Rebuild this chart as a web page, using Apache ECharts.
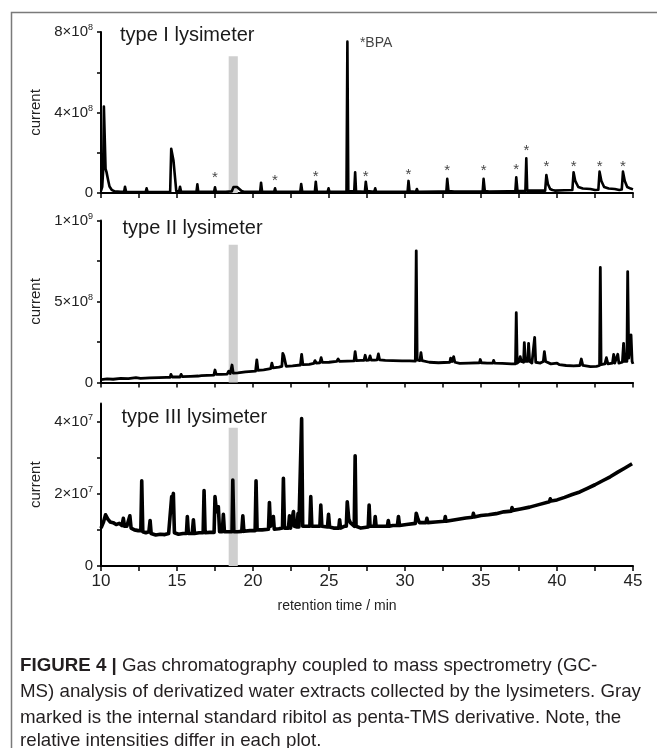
<!DOCTYPE html>
<html><head><meta charset="utf-8">
<script src="https://cdn.jsdelivr.net/npm/echarts@6/dist/echarts.min.js"></script>
<style>html,body{margin:0;padding:0;background:#fff}#c{width:657px;height:748px}</style>
</head><body><div id="c"></div>
<script>
// ---------- DATA ----------
const xMin = 10, xMax = 45, xTickStep = 2.5;
const xLabelValues = [10, 15, 20, 25, 30, 35, 40, 45];

// type I lysimeter, current in 1e8 units
const topTrace = [
 [10.0,0.1],[10.08,0.3],[10.14,1.1],[10.19,4.3],[10.24,4.25],[10.3,1.2],[10.36,1.05],[10.42,1.06],[10.48,0.6],[10.56,0.32],[10.7,0.16],[10.9,0.08],[11.3,0.06],
 [11.52,0.06],[11.58,0.31],[11.65,0.06],[12.4,0.05],[12.94,0.05],[13.0,0.23],[13.07,0.05],[13.8,0.05],
 [14.55,0.06],[14.62,2.2],[14.7,2.25],[14.77,1.6],[14.88,1.6],[14.95,0.1],[15.13,0.06],[15.2,0.31],[15.27,0.06],[15.8,0.06],
 [16.28,0.06],[16.34,0.43],[16.4,0.06],[16.72,0.06],[16.78,0.15],[16.84,0.06],[17.44,0.06],[17.5,0.28],[17.56,0.06],[18.2,0.06],
 [18.6,0.08],[18.72,0.3],[18.85,0.27],[18.95,0.3],[19.08,0.22],[19.25,0.1],[19.4,0.06],[20.0,0.06],
 [20.47,0.06],[20.53,0.51],[20.6,0.06],[21.39,0.06],[21.45,0.23],[21.51,0.06],[22.54,0.06],[22.6,0.15],[22.66,0.06],
 [23.11,0.06],[23.17,0.45],[23.24,0.06],[24.07,0.06],[24.13,0.56],[24.2,0.06],[24.91,0.06],[24.97,0.23],[25.03,0.06],
 [26.15,0.06],[26.21,7.52],[26.27,0.08],[26.66,0.08],[26.72,1.03],[26.78,0.08],[27.36,0.06],[27.42,0.56],[27.5,0.1],
 [27.98,0.06],[28.04,0.23],[28.1,0.06],[29.0,0.06],[30.17,0.06],[30.23,0.6],[30.3,0.08],[30.72,0.06],[30.78,0.2],[30.85,0.06],
 [32.2,0.07],[32.72,0.07],[32.78,0.7],[32.86,0.1],[33.24,0.07],[33.3,0.15],[33.36,0.07],[34.6,0.07],
 [35.11,0.07],[35.17,0.7],[35.25,0.1],[35.54,0.07],[35.6,0.15],[35.66,0.08],[36.8,0.08],
 [37.26,0.08],[37.32,0.78],[37.4,0.1],[37.92,0.1],[37.98,1.72],[38.04,0.12],[38.6,0.12],
 [39.22,0.12],[39.3,0.89],[39.4,0.45],[39.55,0.2],[39.7,0.15],[39.76,0.2],[39.85,0.12],[40.5,0.14],
 [41.01,0.15],[41.09,1.03],[41.2,0.6],[41.4,0.3],[41.7,0.22],[42.2,0.2],[42.5,0.15],
 [42.72,0.16],[42.8,1.06],[42.92,0.6],[43.1,0.3],[43.4,0.22],[43.8,0.2],[44.1,0.15],
 [44.26,0.17],[44.34,1.06],[44.46,0.6],[44.62,0.3],[44.85,0.22],[45.0,0.18]
];
const topStars = [[17.5,0.94],[21.45,0.8],[24.13,1.01],[27.42,1.01],[30.23,1.09],[32.78,1.31],[35.17,1.31],[37.32,1.34],[37.98,2.3],[39.3,1.48],[41.09,1.48],[42.8,1.48],[44.34,1.48]];
const bpaPoint = [[26.21,7.52]];

// type II lysimeter, current in 1e8 units
const midTrace = [
 [10.0,0.18],[10.4,0.22],[10.8,0.2],[11.3,0.26],[11.8,0.24],[12.3,0.3],[12.6,0.26],[13.2,0.28],[13.8,0.3],[14.3,0.32],
 [14.55,0.32],[14.6,0.5],[14.68,0.34],[15.2,0.34],[15.27,0.5],[15.35,0.36],[15.9,0.38],[16.4,0.4],[16.5,0.52],[16.6,0.42],[17.0,0.44],
 [17.42,0.45],[17.5,0.77],[17.58,0.5],[17.9,0.5],[18.3,0.52],[18.4,0.7],[18.5,0.55],[18.56,0.56],[18.62,1.08],[18.7,0.58],[19.0,0.6],[19.5,0.66],
 [20.17,0.7],[20.25,1.39],[20.33,0.75],[20.7,0.78],[21.16,0.85],[21.24,1.19],[21.32,0.9],[21.7,0.95],
 [21.9,1.0],[21.96,1.8],[22.03,1.65],[22.1,1.75],[22.18,1.0],[22.6,1.02],[23.12,1.08],[23.2,1.74],[23.28,1.1],[23.7,1.12],
 [24.0,1.18],[24.08,1.35],[24.16,1.2],[24.4,1.22],[24.48,1.53],[24.56,1.24],[25.0,1.25],[25.5,1.3],[25.6,1.45],[25.7,1.3],[26.2,1.32],
 [26.65,1.33],[26.72,1.9],[26.8,1.35],[27.1,1.36],[27.3,1.36],[27.38,1.68],[27.46,1.37],[27.62,1.38],[27.7,1.64],[27.78,1.38],[28.0,1.38],
 [28.17,1.4],[28.25,1.76],[28.33,1.4],[28.7,1.36],[29.2,1.35],[29.8,1.33],[30.3,1.33],
 [30.68,1.32],[30.74,8.13],[30.8,1.4],[30.98,1.35],[31.05,1.84],[31.12,1.35],[31.6,1.25],[32.2,1.22],
 [32.95,1.25],[33.0,1.5],[33.1,1.3],[33.2,1.6],[33.28,1.25],[33.6,1.18],[34.2,1.2],[34.9,1.22],[34.95,1.42],[35.02,1.22],[35.4,1.2],
 [35.78,1.2],[35.83,1.36],[35.9,1.2],[36.4,1.18],[37.0,1.15],[37.27,1.15],[37.32,4.31],[37.38,1.2],[37.52,1.3],[37.58,1.6],[37.65,1.3],
 [37.8,1.25],[37.85,2.46],[37.92,1.3],[38.08,1.3],[38.13,2.42],[38.2,1.3],[38.35,1.2],[38.48,1.25],[38.53,2.79],[38.6,1.25],
 [38.9,1.2],[39.1,1.3],[39.17,1.9],[39.25,1.3],[39.6,1.15],[40.0,1.2],[40.05,1.29],[40.15,1.1],[40.6,1.05],[41.1,1.02],
 [41.5,1.05],[41.6,1.45],[41.7,1.05],[42.2,0.98],[42.6,1.0],[42.8,1.05],[42.85,7.1],[42.9,1.1],[43.15,1.15],[43.25,1.53],[43.35,1.15],
 [43.65,1.2],[43.73,1.74],[43.8,1.2],[43.93,1.2],[44.0,1.74],[44.07,1.2],[44.3,1.25],[44.38,2.42],[44.45,1.3],
 [44.6,1.3],[44.65,6.85],[44.72,1.5],[44.82,1.4],[44.87,2.94],[44.94,1.3],[45.0,1.15]
];

// type III lysimeter, current in 1e7 units
const botTrace = [
 [10.0,1.05],[10.15,1.2],[10.3,1.42],[10.45,1.3],[10.6,1.22],[10.8,1.2],[11.0,1.15],[11.2,1.18],
 [11.38,1.12],[11.47,1.32],[11.55,1.1],[11.7,1.1],[11.82,1.12],[11.9,1.39],[11.98,1.05],[12.2,1.0],[12.45,0.98],
 [12.62,0.98],[12.68,2.36],[12.75,0.95],[12.95,0.92],[13.15,0.95],[13.23,1.26],[13.3,0.9],[13.6,0.86],[13.9,0.88],[14.2,0.87],[14.45,0.9],
 [14.58,0.9],[14.65,1.92],[14.7,1.85],[14.76,2.01],[14.83,0.92],[15.1,0.88],[15.4,0.9],[15.62,0.9],[15.68,1.37],[15.75,0.9],
 [16.0,0.9],[16.08,1.28],[16.15,0.9],[16.45,0.92],[16.72,0.92],[16.78,2.09],[16.85,0.92],[17.15,0.93],
 [17.44,0.93],[17.5,1.92],[17.6,1.5],[17.72,1.64],[17.8,0.95],[17.98,0.95],[18.05,1.43],[18.12,0.95],[18.4,0.95],
 [18.62,0.95],[18.67,2.38],[18.74,0.95],[19.0,0.95],[19.26,0.96],[19.33,1.39],[19.4,0.96],[19.8,0.98],
 [20.14,0.98],[20.2,2.36],[20.27,1.0],[20.6,1.0],[21.02,1.02],[21.08,1.76],[21.15,1.1],[21.28,1.05],[21.34,1.37],[21.4,1.02],[21.7,1.03],
 [21.94,1.05],[22.0,2.43],[22.07,1.05],[22.33,1.05],[22.4,1.39],[22.47,1.05],[22.6,1.1],[22.66,1.51],[22.73,1.1],[22.9,1.08],[22.96,1.45],[23.02,1.08],
 [23.14,1.08],[23.2,4.08],[23.27,1.1],[23.5,1.1],[23.74,1.1],[23.8,1.92],[23.87,1.1],[24.1,1.1],[24.4,1.1],[24.46,1.69],[24.53,1.1],
 [24.9,1.08],[24.97,1.43],[25.04,1.08],[25.3,1.05],[25.64,1.05],[25.7,1.28],[25.76,1.05],[26.0,1.1],
 [26.14,1.1],[26.2,1.78],[26.3,1.3],[26.4,1.2],[26.66,1.1],[26.72,3.05],[26.78,1.1],[27.1,1.05],
 [27.58,1.08],[27.64,1.69],[27.7,1.1],[27.98,1.1],[28.04,1.37],[28.1,1.1],[28.4,1.1],[28.84,1.1],[28.9,1.26],[28.96,1.1],[29.2,1.12],
 [29.5,1.12],[29.57,1.37],[29.64,1.12],[30.1,1.15],[30.68,1.18],[30.74,1.46],[30.85,1.3],[30.95,1.2],[31.38,1.2],[31.44,1.32],[31.5,1.2],
 [32.0,1.22],[32.6,1.24],[32.65,1.37],[32.7,1.24],[33.3,1.28],[34.0,1.33],[34.45,1.35],[34.5,1.46],[34.55,1.36],[35.0,1.4],[35.5,1.42],
 [36.0,1.45],[36.5,1.5],[37.0,1.52],[37.04,1.62],[37.1,1.54],[37.6,1.58],[38.2,1.63],[38.8,1.7],[39.5,1.78],[39.56,1.86],[39.62,1.8],
 [40.0,1.83],[40.5,1.9],[41.0,1.98],[41.5,2.05],[42.0,2.15],[42.5,2.25],[43.0,2.36],[43.5,2.47],[44.0,2.6],[44.5,2.72],[44.94,2.83]
];

// internal standard (ribitol) band: [from, to] minutes and band heights per panel
const bandRange = [18.4, 19.0];
const bandTops = [6.8, 8.5, 3.83];

// y axis ticks and labels: value, mantissa text, exponent
const topYTicks = [0, 2, 4, 6, 8];
const topYLabels = [[0,'0',''],[4,'4×10','8'],[8,'8×10','8']];
const midYTicks = [0, 2.5, 5, 7.5, 10];
const midYLabels = [[0,'0',''],[5,'5×10','8'],[10,'1×10','9']];
const botYTicks = [0, 1, 2, 3, 4];
const botYLabels = [[0,'0',''],[2,'2×10','7'],[4,'4×10','7']];
const yMaxes = [8, 10, 4.5];
const panelTitles = ['type I lysimeter', 'type II lysimeter', 'type III lysimeter'];

// ---------- CHART ----------
const chart = echarts.init(document.getElementById('c'), null, {renderer: 'canvas'});
const FONT = '"Liberation Sans", Arial, Helvetica, sans-serif';
const grids = [
  {left: 101, width: 532, top: 32, height: 161},
  {left: 101, width: 532, top: 220.5, height: 162},
  {left: 101, width: 532, top: 403.5, height: 162.5}
];
const ticksY = [topYTicks, midYTicks, botYTicks];
const labelsY = [topYLabels, midYLabels, botYLabels];

const xAxes = grids.map((g, i) => ({
  type: 'value', gridIndex: i, min: xMin, max: xMax, interval: xTickStep,
  axisLine: {show: true, onZero: false, lineStyle: {color: '#000', width: 2}},
  axisTick: {show: true, inside: false, length: 5, lineStyle: {color: '#000', width: 1.5}},
  splitLine: {show: false},
  axisLabel: {
    show: i === 2, margin: 7, color: '#222', fontSize: 17, fontFamily: FONT,
    customValues: xLabelValues
  },
  name: i === 2 ? 'retention time / min' : '',
  nameLocation: 'middle', nameGap: 33,
  nameTextStyle: {color: '#222', fontSize: 14, fontFamily: FONT, padding: [0, 60, 0, 0]}
}));

const yAxes = grids.map((g, i) => ({
  type: 'value', gridIndex: i, min: 0, max: yMaxes[i],
  axisLine: {show: true, lineStyle: {color: '#000', width: 2}},
  axisTick: {show: true, inside: false, length: 4, lineStyle: {color: '#000', width: 1.5}, customValues: ticksY[i]},
  splitLine: {show: false},
  axisLabel: {
    margin: 8, color: '#222', fontSize: 15, fontFamily: FONT,
    customValues: labelsY[i].map(l => l[0]),
    formatter: v => {
      const l = labelsY[i].find(q => Math.abs(q[0] - v) < 1e-9);
      if (!l) return '';
      return l[2] ? '{m|' + l[1] + '}{e|' + l[2] + '}' : '{m|' + l[1] + '}';
    },
    rich: {
      m: {fontSize: 15, fontFamily: FONT, color: '#222'},
      e: {fontSize: 9, fontFamily: FONT, color: '#222', verticalAlign: 'top', padding: [0, 0, 8, 0]}
    }
  },
  name: 'current', nameLocation: 'middle', nameGap: 57, nameRotate: 90,
  nameTextStyle: {color: '#222', fontSize: 15, fontFamily: FONT}
}));

const traces = [topTrace, midTrace, botTrace];
const lineWidths = [2.6, 2.8, 3.6];
const series = traces.map((tr, i) => ({
  type: 'line', xAxisIndex: i, yAxisIndex: i, data: tr, showSymbol: false, symbol: 'none',
  lineStyle: {color: '#000', width: lineWidths[i], join: 'round'}, z: 3, silent: true,
  markArea: {
    silent: true, itemStyle: {color: '#cfcfcf'},
    data: [[{xAxis: bandRange[0], yAxis: 0}, {xAxis: bandRange[1], yAxis: bandTops[i]}]]
  }
}));
series.push({
  type: 'scatter', xAxisIndex: 0, yAxisIndex: 0, data: topStars, symbolSize: 1,
  itemStyle: {color: 'rgba(0,0,0,0)'}, silent: true, z: 4,
  label: {show: true, position: 'inside', formatter: '*', fontSize: 15, color: '#111', fontFamily: FONT, offset: [0, 4]}
});
series.push({
  type: 'scatter', xAxisIndex: 0, yAxisIndex: 0, data: bpaPoint, symbolSize: 1,
  itemStyle: {color: 'rgba(0,0,0,0)'}, silent: true, z: 4,
  label: {show: true, position: 'right', distance: 12, formatter: '*BPA', fontSize: 14, color: '#111', fontFamily: FONT, offset: [0, 1]}
});

const titlePos = [[120, 35], [122.5, 228.5], [121.5, 417]];
const graphics = [
  {type: 'rect', left: 9, top: 10, shape: {x: 0, y: 0, width: 700, height: 800}, style: {fill: null, stroke: '#7a7a7a', lineWidth: 1.5}, silent: true, z: 0}
];
panelTitles.forEach((t, i) => graphics.push({
  type: 'text', x: titlePos[i][0], y: titlePos[i][1], silent: true, z: 5,
  style: {text: t, fontSize: 20, fontFamily: FONT, fill: '#1a1a1a', textVerticalAlign: 'middle', textAlign: 'left'}
}));
const capLines = [
  '{b|FIGURE 4 |} Gas chromatography coupled to mass spectrometry (GC-',
  'MS) analysis of derivatized water extracts collected by the lysimeters. Gray',
  'marked is the internal standard ribitol as penta-TMS derivative. Note, the',
  'relative intensities differ in each plot.'
];
const capY = [666, 692, 717.5, 741];
capLines.forEach((t, i) => graphics.push({
  type: 'text', x: 20, y: capY[i], scaleX: 0.985, silent: true,
  style: {text: t, fontSize: 19, fontFamily: FONT, fill: '#231f20', textVerticalAlign: 'middle',
    rich: {b: {fontSize: 19, fontFamily: FONT, fontWeight: 'bold', fill: '#231f20'}}}
}));

chart.setOption({
  animation: false,
  backgroundColor: '#fff',
  grid: grids,
  xAxis: xAxes,
  yAxis: yAxes,
  series: series,
  graphic: graphics
});
</script></body></html>
